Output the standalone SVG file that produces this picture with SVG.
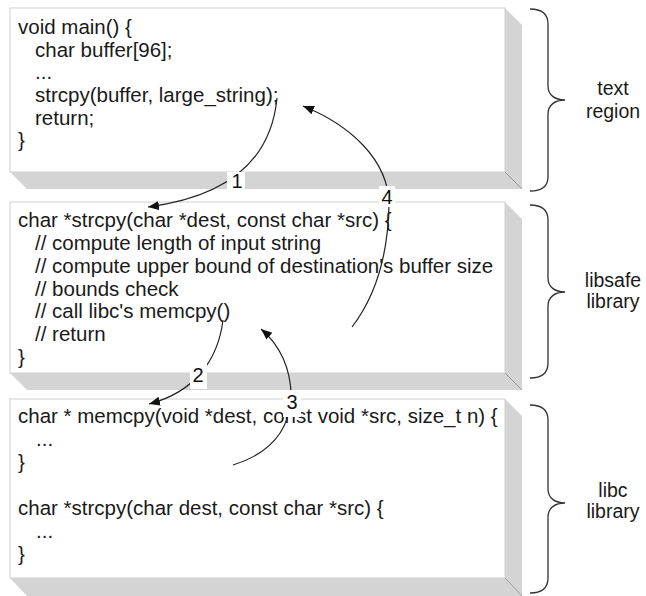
<svg xmlns="http://www.w3.org/2000/svg" width="646" height="596" viewBox="0 0 646 596">
  <style>
    .front { fill: #ffffff; stroke: #d0d0d0; stroke-width: 1; }
    .side { fill: #d4d4d4; stroke: none; }
    .edge { fill: none; stroke: #9a9a9a; stroke-width: 1; }
    .code { font-family: "Liberation Sans", Arial, sans-serif; font-size: 20.5px; fill: #1a1a1a; }
    .region { font-family: "Liberation Sans", Arial, sans-serif; font-size: 19.5px; fill: #1a1a1a; text-anchor: middle; }
    .brace { fill: none; stroke: #333333; stroke-width: 1.3; }
    .flow { fill: none; stroke: #222222; stroke-width: 1.2; marker-end: url(#head); }
    .tagbg { fill: #ffffff; stroke: none; }
    .tag { font-family: "Liberation Sans", Arial, sans-serif; font-size: 20px; fill: #111111; text-anchor: middle; }
  </style>
  <defs>
    <marker id="head" markerUnits="userSpaceOnUse" markerWidth="12" markerHeight="10" refX="11" refY="4.5" orient="auto">
      <path d="M0,0 L11,4.5 L0,9 z" fill="#111111"/>
    </marker>
  </defs>

  <rect width="646" height="596" fill="#ffffff"/>

  <!-- main program: text region slab -->
  <g id="text-region">
    <polygon class="side" points="10,172 505,172 522,189 27,189"/>
    <polygon class="side" points="505,8 522,25 522,189 505,172"/>
    <line class="edge" x1="505" y1="172" x2="522" y2="189"/>
    <rect class="front" x="10" y="8" width="495" height="164"/>
    <text class="code" x="18" y="34">void main() {</text>
    <text class="code" x="35" y="57">char buffer[96];</text>
    <text class="code" x="35" y="79">...</text>
    <text class="code" x="35" y="102">strcpy(buffer, large_string);</text>
    <text class="code" x="35" y="125">return;</text>
    <text class="code" x="18" y="147">}</text>
  </g>

  <!-- libsafe wrapper slab -->
  <g id="libsafe-library">
    <polygon class="side" points="10,373 505,373 522,390 27,390"/>
    <polygon class="side" points="505,202 522,219 522,390 505,373"/>
    <line class="edge" x1="505" y1="373" x2="522" y2="390"/>
    <rect class="front" x="10" y="202" width="495" height="171"/>
    <text class="code" x="18" y="227">char *strcpy(char *dest, const char *src) {</text>
    <text class="code" x="35" y="250">// compute length of input string</text>
    <text class="code" x="35" y="273">// compute upper bound of destination's buffer size</text>
    <text class="code" x="35" y="296">// bounds check</text>
    <text class="code" x="35" y="318">// call libc's memcpy()</text>
    <text class="code" x="35" y="341">// return</text>
    <text class="code" x="18" y="364">}</text>
  </g>

  <!-- libc slab -->
  <g id="libc-library">
    <polygon class="side" points="10,578 505,578 522,596 27,596"/>
    <polygon class="side" points="505,399 522,416 522,596 505,578"/>
    <line class="edge" x1="505" y1="578" x2="522" y2="596"/>
    <rect class="front" x="10" y="399" width="495" height="179"/>
    <text class="code" x="18" y="423">char * memcpy(void *dest, const void *src, size_t n) {</text>
    <text class="code" x="36" y="446">...</text>
    <text class="code" x="18" y="469">}</text>
    <text class="code" x="18" y="515">char *strcpy(char dest, const char *src) {</text>
    <text class="code" x="36" y="538">...</text>
    <text class="code" x="18" y="561">}</text>
  </g>

  <!-- braces and region names -->
  <g id="region-labels">
    <path class="brace" d="M530,9 C542,9 548,14 548,24 L548,86 C548,95 555,100 565,100 C555,100 548,105 548,114 L548,177 C548,187 542,191 530,191"/>
    <path class="brace" d="M530,205 C542,205 548,210 548,220 L548,278 C548,287 555,292 565,292 C555,292 548,297 548,306 L548,363 C548,373 542,378 530,378"/>
    <path class="brace" d="M530,405 C542,405 548,410 548,420 L548,489 C548,498 555,503 565,503 C555,503 548,508 548,517 L548,578 C548,588 542,593 530,593"/>
    <text class="region" x="613" y="95">text</text>
    <text class="region" x="613" y="118">region</text>
    <text class="region" x="613" y="287">libsafe</text>
    <text class="region" x="613" y="308">library</text>
    <text class="region" x="613" y="497">libc</text>
    <text class="region" x="613" y="518">library</text>
  </g>

  <!-- call flow arrows with step numbers -->
  <g id="connectors">
    <path class="flow" d="M277,98 C272,150 240,195 148,207"/>
    <path class="flow" d="M223,320 C218,360 195,392 149,404"/>
    <path class="flow" d="M233,465 C265,455 288,435 291,400 C292,370 280,345 261,329"/>
    <path class="flow" d="M352,327 C375,297 388,255 389,205 C389,160 350,125 303,106"/>

    <rect class="tagbg" x="227" y="172" width="18" height="18"/>
    <text class="tag" x="237" y="188">1</text>
    <rect class="tagbg" x="190" y="363" width="17" height="26"/>
    <text class="tag" x="198" y="382">2</text>
    <rect class="tagbg" x="283" y="390" width="18" height="27"/>
    <text class="tag" x="292" y="409">3</text>
    <rect class="tagbg" x="379" y="186" width="16" height="21"/>
    <text class="tag" x="387" y="204">4</text>
  </g>
</svg>
